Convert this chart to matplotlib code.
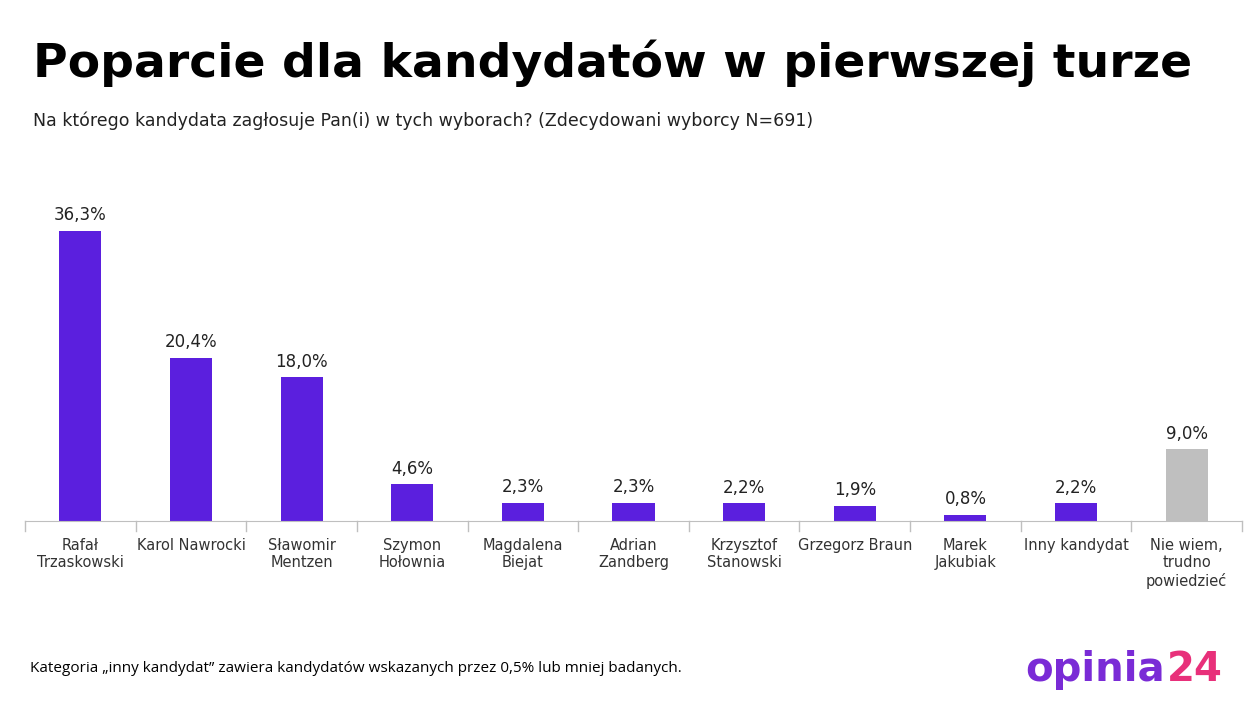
import matplotlib
matplotlib.use("Agg")
import matplotlib.pyplot as plt
import numpy as np

candidates = ["Rafał\nTrzaskowski", "Karol Nawrocki", "Sławomir\nMentzen", "Szymon\nHołownia",
              "Magdalena\nBiejat", "Adrian\nZandberg", "Krzysztof\nStanowski", "Grzegorz Braun",
              "Marek\nJakubiak", "Inny kandydat", "Nie wiem,\ntrudno\npowiedzieć"]
values = [36.3, 20.4, 18.0, 4.6, 2.3, 2.3, 2.2, 1.9, 0.8, 2.2, 9.0]
colors = ["#5B1FDE"] * 10 + ["#BFBFBF"]

fig = plt.figure(figsize=(12.56, 7.04), dpi=100)
ax = fig.add_axes([25 / 1256, 1 - 521 / 704, 1217 / 1256, 320 / 704])
x = np.arange(len(values))
ax.bar(x, values, width=0.38, color=colors)
for xi, v in zip(x, values):
    ax.text(xi, v + 0.8, f"{v:.1f}".replace(".", ",") + "%", ha="center", va="bottom",
            fontsize=12, color="#222222")
ax.set_xlim(-0.5, len(values) - 0.5)
ax.set_ylim(0, 40)
for s in ["top", "right", "left"]:
    ax.spines[s].set_visible(False)
ax.spines["bottom"].set_color("#BFBFBF")
ax.set_yticks([])
ax.set_xticks(x)
ax.set_xticklabels(candidates, fontsize=10.5, color="#333333", linespacing=1.2)
ax.tick_params(axis="x", length=0, pad=12)
for b in np.arange(-0.5, len(values), 1.0):
    ax.plot([b, b], [0, -1.3], color="#BFBFBF", lw=1, clip_on=False)

fig.text(33 / 1256, 1 - 63 / 704, "Poparcie dla kandydatów w pierwszej turze", fontsize=34,
         fontweight="bold", va="center", color="black")
fig.text(33 / 1256, 1 - 121 / 704,
         "Na którego kandydata zagłosuje Pan(i) w tych wyborach? (Zdecydowani wyborcy N=691)",
         fontsize=12.5, va="center", color="#222222")
fig.text(30 / 1256, 1 - 669 / 704,
         "Kategoria „inny kandydat” zawiera kandydatów wskazanych przez 0,5% lub mniej badanych.",
         fontsize=11, va="center", color="black", family="Open Sans")
fig.text(1165 / 1256, 1 - 670 / 704, "opinia", fontsize=29, fontweight="bold",
         va="center", ha="right", color="#7A2BD6")
fig.text(1167 / 1256, 1 - 670 / 704, "24", fontsize=29, fontweight="bold",
         va="center", ha="left", color="#E8307A")
fig.savefig("out.png", dpi=100)
